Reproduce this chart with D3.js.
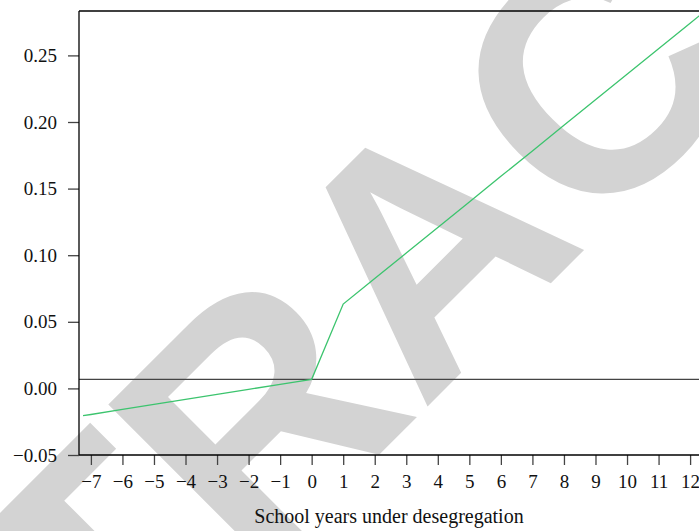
<!DOCTYPE html>
<html>
<head>
<meta charset="utf-8">
<script src="https://cdn.jsdelivr.net/npm/d3@7"></script>
<style>
  html, body { margin: 0; padding: 0; background: #fff; }
  svg { display: block; }
  .tick text { font-family: "Liberation Serif", "Times New Roman", serif; font-size: 19px; fill: #111; }
</style>
</head>
<body>
<svg id="chart" width="699" height="531"></svg>
<script>
// Estimated effect by school years under desegregation
const years   = [-7.25, -7, -6, -5, -4, -3, -2, -1, 0, 1, 2, 3, 4, 5, 6, 7, 8, 9, 10, 11, 12, 12.3];
const effects = [-0.0205, -0.0196, -0.0158, -0.0120, -0.0083, -0.0045, -0.0007, 0.0030, 0.0068,
                 0.0633, 0.0825, 0.1016, 0.1208, 0.1400, 0.1592, 0.1783, 0.1975, 0.2167, 0.2358, 0.2550, 0.2742, 0.2799];
const referenceLevel = 0.0068;

const xTicks = [-7, -6, -5, -4, -3, -2, -1, 0, 1, 2, 3, 4, 5, 6, 7, 8, 9, 10, 11, 12];
const yTicks = [-0.05, 0.00, 0.05, 0.10, 0.15, 0.20, 0.25];
const xTitle = "School years under desegregation";
const stamp = "RETRACTED";

const svg = d3.select("#chart");
const plot = { left: 79, top: 11, right: 712, bottom: 455 };

const x = d3.scaleLinear().domain([-7, 12]).range([90.9, 690.1]);
const y = d3.scaleLinear().domain([-0.05, 0.25]).range([455, 55.4]);

// Watermark stamp, behind everything
svg.append("text")
  .attr("transform", "translate(506,328) rotate(-45)")
  .attr("text-anchor", "middle")
  .attr("font-family", "'Liberation Sans', Arial, sans-serif")
  .attr("font-weight", "bold")
  .attr("font-size", 330)
  .attr("fill", "#d3d3d3")
  .text(stamp);

svg.append("defs").append("clipPath").attr("id", "plotClip")
  .append("rect")
  .attr("x", plot.left).attr("y", plot.top)
  .attr("width", plot.right - plot.left).attr("height", plot.bottom - plot.top);

// Top border of the frame
svg.append("line")
  .attr("x1", plot.left).attr("x2", plot.right)
  .attr("y1", plot.top).attr("y2", plot.top)
  .attr("stroke", "#000").attr("stroke-width", 1.3);

// Horizontal reference line
svg.append("line")
  .attr("x1", plot.left).attr("x2", plot.right)
  .attr("y1", y(referenceLevel)).attr("y2", y(referenceLevel))
  .attr("stroke", "#444").attr("stroke-width", 1.3);

// Effect line
const line = d3.line().x((d, i) => x(years[i])).y(d => y(d));
svg.append("path")
  .attr("clip-path", "url(#plotClip)")
  .attr("d", line(effects))
  .attr("fill", "none")
  .attr("stroke", "#3cc46e")
  .attr("stroke-width", 1.3);

// Axes
const fmt = d3.format(".2f");
const yAxis = svg.append("g")
  .attr("transform", `translate(${plot.left},0)`)
  .call(d3.axisLeft(y).tickValues(yTicks).tickFormat(fmt).tickSize(11).tickPadding(11).tickSizeOuter(0));
yAxis.select(".domain").remove();
yAxis.selectAll(".tick line").attr("stroke", "#444").attr("stroke-width", 1.3);

const xAxis = svg.append("g")
  .attr("transform", `translate(0,${plot.bottom})`)
  .call(d3.axisBottom(x).tickValues(xTicks).tickFormat(d3.format("d")).tickSize(10).tickPadding(9.5).tickSizeOuter(0));
xAxis.select(".domain").remove();
xAxis.selectAll(".tick line").attr("stroke", "#444").attr("stroke-width", 1.3);

// Axis lines
svg.append("line")
  .attr("x1", plot.left).attr("x2", plot.left)
  .attr("y1", plot.top).attr("y2", plot.bottom)
  .attr("stroke", "#000").attr("stroke-width", 1.3);
svg.append("line")
  .attr("x1", plot.left).attr("x2", plot.right)
  .attr("y1", plot.bottom).attr("y2", plot.bottom)
  .attr("stroke", "#000").attr("stroke-width", 1.3);

// Axis title
svg.append("text")
  .attr("x", 389).attr("y", 523)
  .attr("text-anchor", "middle")
  .attr("font-family", "'Liberation Serif', 'Times New Roman', serif")
  .attr("font-size", 20)
  .attr("fill", "#111")
  .text(xTitle);
</script>
</body>
</html>
